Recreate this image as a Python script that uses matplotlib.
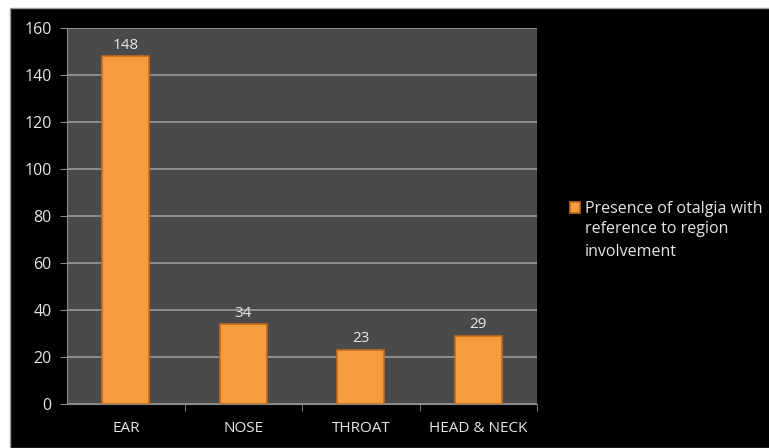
import matplotlib.pyplot as plt
from matplotlib.patches import Rectangle

categories = ["EAR", "NOSE", "THROAT", "HEAD & NECK"]
values = [148, 34, 23, 29]
series_name = "Presence of otalgia with"
series_name_rest = "reference to region\ninvolvement"
yticks = [0, 20, 40, 60, 80, 100, 120, 140, 160]

plt.rcParams["font.family"] = ["Open Sans", "DejaVu Sans"]
text_color = "#e6e6e6"

fig = plt.figure(figsize=(7.69, 4.48), dpi=100, facecolor="white")
# black chart background with thin light frame on the left/top
fig.patches.append(Rectangle((10 / 769, 0), 1, 440 / 448, transform=fig.transFigure,
                             facecolor="black", edgecolor="#9a9a9a", linewidth=1, zorder=-5))

ax = fig.add_axes([67 / 769, 1 - 404 / 448, 470 / 769, 376 / 448])
ax.set_facecolor("#4a4a4a")

x = range(len(categories))
bars = ax.bar(x, values, width=0.4, color="#f59d3d", edgecolor="#c56a1c", linewidth=1.2,
              zorder=3)
for b, v in zip(bars, values):
    ax.annotate(str(v), (b.get_x() + b.get_width() / 2, v), xytext=(0, 2.5),
                textcoords="offset points", ha="center", va="bottom",
                color=text_color, fontsize=11)

ax.set_xlim(-0.5, len(categories) - 0.5)
ax.set_ylim(0, 160)
ax.set_yticks(yticks)
ax.set_yticklabels([str(t) for t in yticks], color=text_color, fontsize=11.5)
ax.set_xticks(list(x))
ax.set_xticklabels(categories, color=text_color, fontsize=11)
ax.tick_params(axis="x", length=0, pad=12)
ax.tick_params(axis="y", length=5, color="#8a8a8a", pad=6)
# category boundary ticks
ax.set_xticks([i + 0.5 for i in range(len(categories))], minor=True)
ax.tick_params(axis="x", which="minor", length=5, color="#8a8a8a", direction="out")

ax.grid(axis="y", color="#9a9a9a", linewidth=1.2, zorder=0)
ax.set_axisbelow(True)
for side in ["top", "right"]:
    ax.spines[side].set_visible(False)
for side in ["left", "bottom"]:
    ax.spines[side].set_color("#8a8a8a")

fig.legend(handles=[bars], labels=[series_name], loc="upper left",
           bbox_to_anchor=(567 / 769, 1 - 198 / 448), frameon=False,
           fontsize=11.5, handlelength=0.6, handleheight=0.6, handletextpad=0.3,
           borderaxespad=0, borderpad=0.2, labelcolor=text_color)
fig.text(585 / 769, 1 - 221 / 448, series_name_rest, ha="left", va="top",
         color=text_color, fontsize=11.5, linespacing=1.6)

fig.savefig("out.png", dpi=100, facecolor="white")
